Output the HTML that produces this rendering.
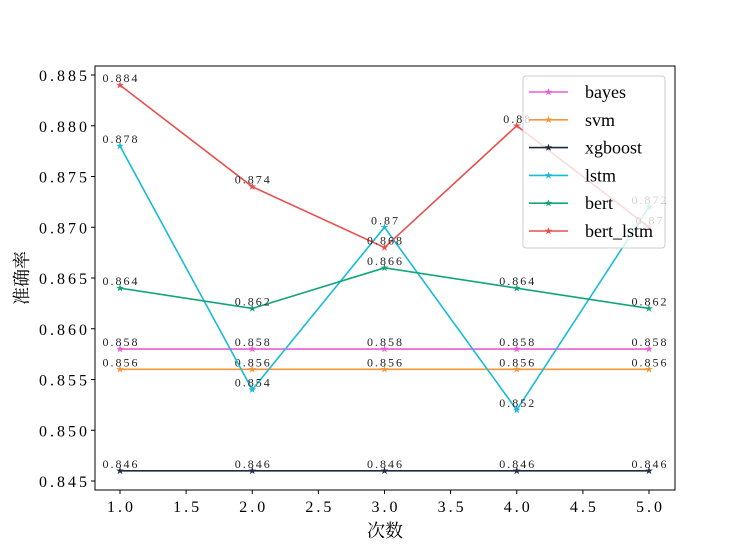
<!DOCTYPE html>
<html><head><meta charset="utf-8"><style>
body{margin:0;background:#fff}
svg text{font-family:"Liberation Serif","Noto Serif CJK SC",serif}
</style></head><body>
<svg id="chart" width="750" height="550" xmlns="http://www.w3.org/2000/svg"></svg>
<script>
const categories=[1,2,3,4,5];
const seriesNames=["bayes","svm","xgboost","lstm","bert","bert_lstm"];
const bayes=[0.858,0.858,0.858,0.858,0.858];
const svm=[0.856,0.856,0.856,0.856,0.856];
const xgboost=[0.846,0.846,0.846,0.846,0.846];
const lstm=[0.878,0.854,0.870,0.852,0.872];
const bert=[0.864,0.862,0.866,0.864,0.862];
const bertLstm=[0.884,0.874,0.868,0.880,0.870];
const xTicks=[1.0,1.5,2.0,2.5,3.0,3.5,4.0,4.5,5.0];
const yTicks=[0.845,0.850,0.855,0.860,0.865,0.870,0.875,0.880,0.885];
const colors=["#e85fd6","#f7953b","#1d2b45","#17bcd6","#12a57a","#e8504d"];
const allSeries=[bayes,svm,xgboost,lstm,bert,bertLstm];

const NS="http://www.w3.org/2000/svg";
const svg=document.getElementById('chart');
const L=95,R=675,T=66,B=490;
const X=v=>120+(v-1)*(649-120)/4;
const Y=v=>481-(v-0.845)*(481-75)/0.04;
function mk(t,a,p){const e=document.createElementNS(NS,t);for(const k in a)e.setAttribute(k,a[k]);(p||svg).appendChild(e);return e;}
function star(x,y,c,g){
  let pts=[];for(let i=0;i<10;i++){const r=i%2?1.6:4;const a=-Math.PI/2+i*Math.PI/5;pts.push((x+r*Math.cos(a)).toFixed(1)+","+(y+r*Math.sin(a)).toFixed(1));}
  const s=mk('polygon',{points:pts.join(' '),fill:c},g);
  
  
}
const fmt=v=>String(parseFloat(v.toFixed(3)));

allSeries.forEach((d,si)=>{
  const g=mk('g',{});
  
  
  const pl=mk('polyline',{points:d.map((v,i)=>X(categories[i])+","+Y(v)).join(' '),fill:'none',stroke:colors[si],'stroke-width':1.6},g);
  
  
  d.forEach((v,i)=>{
    star(X(categories[i]),Y(v),colors[si],g);
    const t=mk('text',{x:X(categories[i])+1,y:Y(v)-3,'text-anchor':'middle','font-size':12,'letter-spacing':2,fill:'#222'},g);
    t.textContent=fmt(v);
    
    
  });
});

const frame=mk('rect',{x:L,y:T,width:R-L,height:B-T,fill:'none',stroke:'#000','stroke-width':1});



xTicks.forEach(v=>{
  mk('line',{x1:X(v),x2:X(v),y1:B,y2:B+4,stroke:'#000'});
  const t=mk('text',{x:X(v)+1.5,y:B+22,'text-anchor':'middle','font-size':16,'letter-spacing':3,fill:'#000'});
  t.textContent=v.toFixed(1);
  
  
});
yTicks.forEach(v=>{
  mk('line',{x1:L-4,x2:L,y1:Y(v),y2:Y(v),stroke:'#000'});
  const t=mk('text',{x:L-5,y:Y(v)+6,'text-anchor':'end','font-size':16,'letter-spacing':3,fill:'#000'});
  t.textContent=v.toFixed(3);
  
  
});
const xt=mk('text',{x:385,y:537,'text-anchor':'middle','font-size':18});
xt.textContent='次数';


const yt=mk('text',{x:28,y:278,'text-anchor':'middle','font-size':18,transform:'rotate(-90 28 278)'});
yt.textContent='准确率';



const lg=mk('g',{});


mk('rect',{x:523,y:76,width:142,height:172,rx:3,fill:'rgba(255,255,255,0.8)',stroke:'#ccc'},lg);
seriesNames.forEach((n,i)=>{
  const y=92+i*27.8;
  const e=mk('g',{},lg);
  
  
  mk('line',{x1:529,x2:568,y1:y,y2:y,stroke:colors[i],'stroke-width':1.6},e);
  star(548.5,y,colors[i],e);
  const t=mk('text',{x:585,y:y+6,'font-size':18,fill:'#000'},e);
  t.textContent=n;
});
</script>
</body></html>
